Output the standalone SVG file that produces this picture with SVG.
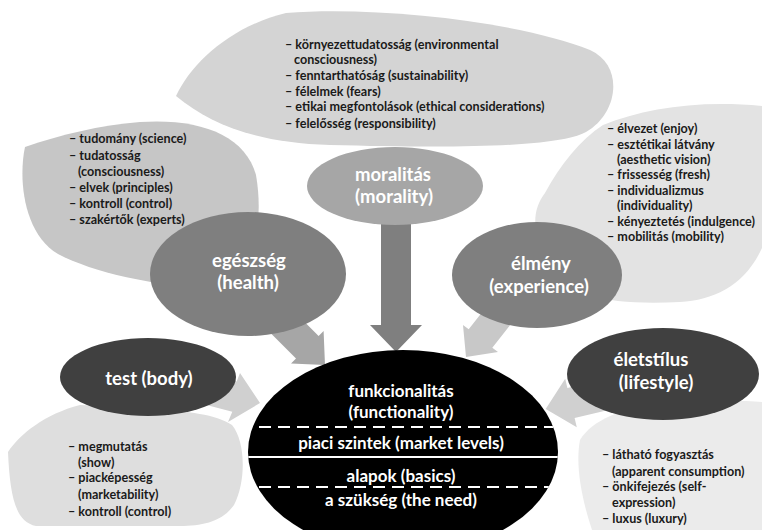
<svg xmlns="http://www.w3.org/2000/svg" width="762" height="530" viewBox="0 0 762 530">
<style>
.lst{font-family:Lato,"Liberation Sans",sans-serif;font-weight:bold;font-size:12.6px;fill:#1a1a1a}
.lbl{font-family:Lato,"Liberation Sans",sans-serif;font-weight:bold;font-size:18.5px;fill:#fff;text-anchor:middle}
.ctr{font-family:Lato,"Liberation Sans",sans-serif;font-weight:bold;font-size:17px;fill:#fff;text-anchor:middle}
</style>
<defs>
<clipPath id="cclip"><ellipse cx="403" cy="452" rx="155" ry="102"/></clipPath>
</defs>
<rect width="762" height="530" fill="#fff"/>
<g id="blobs">
<path id="blob-top" d="M176,96 C192,62 232,26 286,13 C380,6 520,22 590,50 C625,66 618,114 586,132 C556,148 450,148 330,145 C260,143 212,126 176,96 Z" fill="#d4d4d4"/>
<path id="blob-left" d="M25,147 C60,135 100,125 140,122 C200,118 245,135 256,175 C263,215 256,260 240,285 C180,292 100,276 58,254 C24,234 18,180 25,147 Z" fill="#c6c6c6"/>
<path id="blob-right" d="M603,125 C645,108 700,100 762,106 L762,248 C745,285 715,300 680,302 C620,305 565,300 545,262 C532,230 532,210 545,193 C560,165 580,140 603,125 Z" fill="#e3e3e3"/>
<path id="blob-bl" d="M8,452 C20,434 45,414 80,405 L150,408 C190,412 215,414 232,425 C246,442 246,482 234,505 C222,522 202,526 180,526 L36,526 C16,522 10,498 8,452 Z" fill="#dedede"/>
<path id="blob-br" d="M580,440 C592,420 622,408 660,404 C700,400 740,400 762,402 L762,530 L592,530 C582,500 575,466 580,440 Z" fill="#ebebeb"/>
</g>
<g id="lists">
<text class="lst" x="285" y="49">– környezettudatosság (environmental</text>
<text class="lst" x="294" y="64">consciousness)</text>
<text class="lst" x="285" y="80">– fenntarthatóság (sustainability)</text>
<text class="lst" x="285" y="96">– félelmek (fears)</text>
<text class="lst" x="285" y="111">– etikai megfontolások (ethical considerations)</text>
<text class="lst" x="285" y="128">– felelősség (responsibility)</text>

<text class="lst" x="69" y="143">– tudomány (science)</text>
<text class="lst" x="69" y="160">– tudatosság</text>
<text class="lst" x="78" y="176">(consciousness)</text>
<text class="lst" x="69" y="192">– elvek (principles)</text>
<text class="lst" x="69" y="208">– kontroll (control)</text>
<text class="lst" x="69" y="224">– szakértők (experts)</text>

<text class="lst" x="607" y="133">– élvezet (enjoy)</text>
<text class="lst" x="607" y="149">– esztétikai látvány</text>
<text class="lst" x="617" y="164">(aesthetic vision)</text>
<text class="lst" x="607" y="179">– frissesség (fresh)</text>
<text class="lst" x="607" y="195">– individualizmus</text>
<text class="lst" x="617" y="210">(individuality)</text>
<text class="lst" x="607" y="226">– kényeztetés (indulgence)</text>
<text class="lst" x="607" y="241">– mobilitás (mobility)</text>

<text class="lst" x="68" y="451">– megmutatás</text>
<text class="lst" x="78" y="467">(show)</text>
<text class="lst" x="68" y="482">– piacképesség</text>
<text class="lst" x="78" y="499">(marketability)</text>
<text class="lst" x="68" y="516">– kontroll (control)</text>

<text class="lst" x="602" y="459">– látható fogyasztás</text>
<text class="lst" x="612" y="476">(apparent consumption)</text>
<text class="lst" x="602" y="491">– önkifejezés (self-</text>
<text class="lst" x="612" y="507">expression)</text>
<text class="lst" x="602" y="523">– luxus (luxury)</text>
</g>
<g id="connectors">
<polygon id="arrow-morality" points="381,220 411,220 411,325 422,325 396,352 370,325 381,325" fill="#7f7f7f"/>
<polygon id="arrow-health" points="276.2,293.6 318.6,336 323.6,331 325,365 291,363.6 296,358.6 253.6,316.2" fill="#a6a6a6"/>
<polygon id="arrow-experience" points="523.2,308.5 492.3,347.8 498,352 466,357 463,325 468.7,329.2 499.6,289.9" fill="#c8c8c8"/>
<polygon id="arrow-body" points="189,369 236.7,381.5 240,373 260,403 228,422 232.3,411.7 184.6,399.2" fill="#d0d0d0"/>
<polygon id="arrow-lifestyle" points="623.3,406.5 574.6,418.1 576.8,427.3 545.7,409 565.2,378.7 567.4,387.9 616.1,376.3" fill="#d0d0d0"/>
</g>
<g id="node-moralitas">
<ellipse cx="395" cy="186" rx="88" ry="39" fill="#a6a6a6"/>
<text class="lbl" x="393" y="181">moralitás</text>
<text class="lbl" x="394" y="203">(morality)</text>
</g>
<g id="node-egeszseg">
<ellipse cx="248" cy="274" rx="98" ry="62" fill="#7f7f7f"/>
<text class="lbl" x="249" y="267">egészség</text>
<text class="lbl" x="248" y="289">(health)</text>
</g>
<g id="node-elmeny">
<ellipse cx="537" cy="275" rx="85" ry="53" fill="#7f7f7f"/>
<text class="lbl" x="541" y="270">élmény</text>
<text class="lbl" x="539" y="293">(experience)</text>
</g>
<g id="node-test">
<ellipse cx="148" cy="377" rx="88" ry="39" fill="#404040"/>
<text class="lbl" x="149" y="385">test (body)</text>
</g>
<g id="node-eletstilus">
<ellipse cx="663" cy="374" rx="96" ry="46" fill="#404040"/>
<text class="lbl" x="651" y="366">életstílus</text>
<text class="lbl" x="656" y="389">(lifestyle)</text>
</g>
<g id="node-center">
<ellipse cx="403" cy="452" rx="155" ry="102" fill="#000"/>
<g clip-path="url(#cclip)" stroke="#fff" stroke-width="2" fill="none">
<line x1="240" y1="427" x2="570" y2="427" stroke-dasharray="12 7"/>
<line x1="240" y1="457" x2="570" y2="457"/>
<line x1="240" y1="487" x2="570" y2="487" stroke-dasharray="12 7"/>
</g>
<text class="ctr" x="401" y="397">funkcionalitás</text>
<text class="ctr" x="401" y="418">(functionality)</text>
<text class="ctr" x="401" y="449">piaci szintek (market levels)</text>
<text class="ctr" x="401" y="482">alapok (basics)</text>
<text class="ctr" x="401" y="506">a szükség (the need)</text>
</g>
</svg>
